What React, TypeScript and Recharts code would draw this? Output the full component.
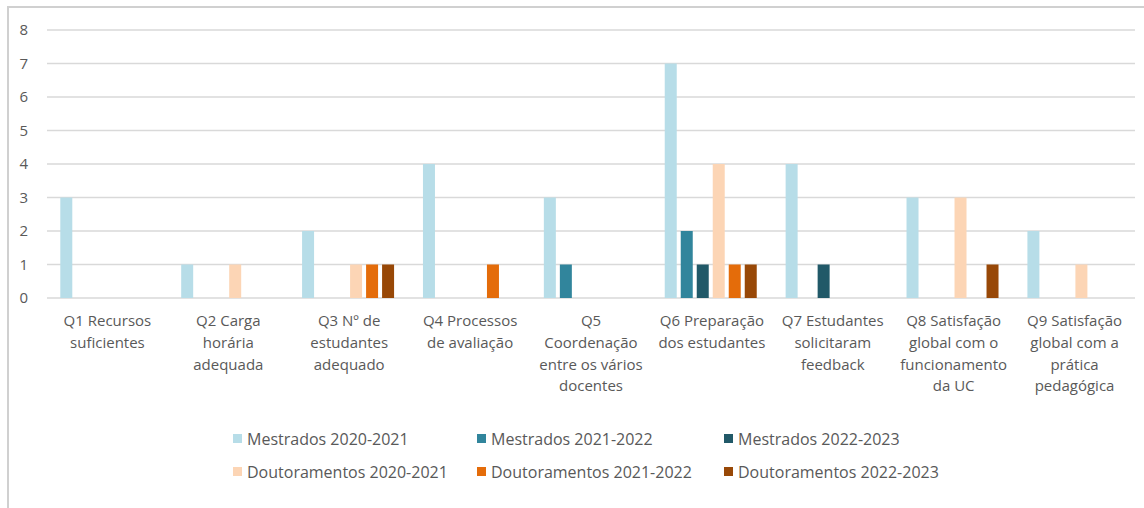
import React from 'react';
import { BarChart, Bar, XAxis, YAxis, CartesianGrid, Legend } from 'recharts';

const categories = [
  'Q1 Recursos\nsuficientes',
  'Q2 Carga\nhorária\nadequada',
  'Q3 Nº de\nestudantes\nadequado',
  'Q4 Processos\nde avaliação',
  'Q5\nCoordenação\nentre os vários\ndocentes',
  'Q6 Preparação\ndos estudantes',
  'Q7 Estudantes\nsolicitaram\nfeedback',
  'Q8 Satisfação\nglobal com o\nfuncionamento\nda UC',
  'Q9 Satisfação\nglobal com a\nprática\npedagógica',
];

const mestrados2021 = [3, 1, 2, 4, 3, 7, 4, 3, 2];
const mestrados2122 = [0, 0, 0, 0, 1, 2, 0, 0, 0];
const mestrados2223 = [0, 0, 0, 0, 0, 1, 1, 0, 0];
const doutoramentos2021 = [0, 1, 1, 0, 0, 4, 0, 3, 1];
const doutoramentos2122 = [0, 0, 1, 1, 0, 1, 0, 0, 0];
const doutoramentos2223 = [0, 0, 1, 0, 0, 1, 0, 1, 0];

const yTicks = [0, 1, 2, 3, 4, 5, 6, 7, 8];

const series = [
  { key: 'm2021', name: 'Mestrados 2020-2021', color: '#b7dde8', values: mestrados2021 },
  { key: 'm2122', name: 'Mestrados 2021-2022', color: '#31859c', values: mestrados2122 },
  { key: 'm2223', name: 'Mestrados 2022-2023', color: '#215968', values: mestrados2223 },
  { key: 'd2021', name: 'Doutoramentos 2020-2021', color: '#fcd5b5', values: doutoramentos2021 },
  { key: 'd2122', name: 'Doutoramentos 2021-2022', color: '#e46c0a', values: doutoramentos2122 },
  { key: 'd2223', name: 'Doutoramentos 2022-2023', color: '#984807', values: doutoramentos2223 },
];

const data = categories.map((label, i) => {
  const row: Record<string, string | number> = { label };
  series.forEach((s) => {
    row[s.key] = s.values[i];
  });
  return row;
});

const FONT = '"Open Sans", sans-serif';
const TEXT = '#595959';

const CategoryTick = (props: any) => {
  const { x, y, payload } = props;
  const lines = String(payload.value).split('\n');
  return (
    <text x={x} y={y} textAnchor="middle" fill={TEXT} fontSize={15} fontFamily={FONT}>
      {lines.map((line, i) => (
        <tspan key={i} x={x} dy={i === 0 ? 20 : 21.8}>
          {line}
        </tspan>
      ))}
    </text>
  );
};

// legend drawn in series order (recharts sorts its payload by name)
const LegendGrid = () => (
  <div
    style={{
      display: 'grid',
      gridTemplateColumns: '244px 247px 260px',
      gridAutoRows: '33px',
      paddingLeft: 233,
      fontFamily: FONT,
      fontSize: 16,
      color: TEXT,
    }}
  >
    {series.map((s) => (
      <div key={s.key} style={{ display: 'flex', alignItems: 'center', whiteSpace: 'nowrap' }}>
        <span style={{ width: 9, height: 9, background: s.color, marginRight: 5, display: 'inline-block' }} />
        {s.name}
      </div>
    ))}
  </div>
);

export default function App() {
  return (
    <div style={{ position: 'absolute', left: 0, top: 0, width: 1144, height: 508, background: '#fff' }}>
      <div
        style={{
          position: 'absolute',
          left: 7,
          top: 6,
          right: 0,
          bottom: 0,
          borderLeft: '2px solid #d0d0d0',
          borderTop: '2px solid #d0d0d0',
        }}
      />
      <div style={{ position: 'absolute', left: 0, top: 0 }}>
        <BarChart
          width={1144}
          height={508}
          data={data}
          margin={{ top: 30, right: 9, left: 0, bottom: 0 }}
          barCategoryGap="11%"
          barGap={4}
        >
          <CartesianGrid vertical={false} stroke="#d9d9d9" strokeWidth={1.5} />
          <XAxis
            dataKey="label"
            height={210}
            axisLine={false}
            tickLine={false}
            interval={0}
            tick={<CategoryTick />}
          />
          <YAxis
            width={47}
            domain={[0, 8]}
            ticks={yTicks}
            axisLine={false}
            tickLine={false}
            tickMargin={13}
            tick={{ fill: TEXT, fontSize: 15, fontFamily: FONT }}
          />
          <Legend
            layout="horizontal"
            verticalAlign="middle"
            align="center"
            wrapperStyle={{ position: 'absolute', top: 422, left: 0, width: 1144 }}
            content={<LegendGrid />}
          />
          {series.map((s) => (
            <Bar key={s.key} dataKey={s.key} name={s.name} fill={s.color} isAnimationActive={false} />
          ))}
        </BarChart>
      </div>
    </div>
  );
}
